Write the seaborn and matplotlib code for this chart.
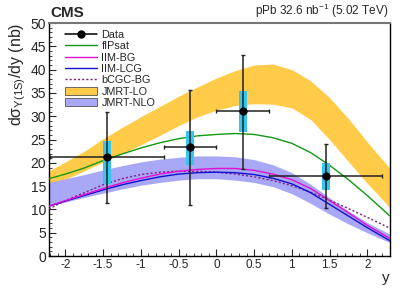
import numpy as np
import pandas as pd
import matplotlib
matplotlib.use("Agg")
import matplotlib.pyplot as plt
import seaborn as sns
from matplotlib.patches import Patch
from matplotlib.lines import Line2D
from matplotlib.ticker import MultipleLocator

sns.set_style("ticks")
plt.rcParams['font.family'] = ['Liberation Sans', 'DejaVu Sans']
plt.rcParams['mathtext.default'] = 'regular'

# data points
y_data = [-1.45, -0.35, 0.35, 1.45]
xs_data = [21.2, 23.3, 31.2, 17.1]
x_lo = [-2.2, -0.7, 0.0, 0.7]
x_hi = [-0.7, 0.0, 0.7, 2.2]
stat_hi = [31.0, 35.6, 43.2, 24.0]
stat_lo = [11.3, 11.0, 18.6, 10.3]
syst_hi = [24.8, 26.8, 35.5, 20.0]
syst_lo = [15.4, 19.6, 26.6, 14.2]

# rapidity grid for the model curves
y_grid = [-2.22, -2.0, -1.75, -1.5, -1.25, -1.0, -0.75, -0.5, -0.25, 0.0,
          0.25, 0.5, 0.75, 1.0, 1.25, 1.5, 1.75, 2.0, 2.3]

# JMRT-LO band
lo_up = [18.3, 20.2, 22.5, 25.2, 27.6, 29.9, 32.1, 34.3, 36.3, 38.2,
         39.8, 41.0, 41.2, 40.0, 37.6, 34.0, 29.5, 24.5, 18.8]
lo_dn = [15.2, 16.5, 18.3, 20.2, 22.0, 23.9, 25.9, 28.0, 29.9, 31.3,
         32.3, 32.7, 32.6, 31.8, 29.3, 25.0, 20.3, 15.6, 10.4]

# JMRT-NLO band
nlo_up = [15.8, 16.6, 17.5, 18.5, 19.4, 20.2, 20.8, 21.2, 21.5, 21.5,
          21.3, 20.7, 19.6, 17.9, 15.4, 12.5, 9.7, 7.2, 4.7]
nlo_dn = [10.8, 11.6, 12.6, 13.5, 14.4, 15.2, 15.8, 16.3, 16.6, 16.6,
          16.3, 15.8, 14.9, 13.4, 11.3, 9.0, 6.9, 5.0, 2.9]

# model curves
fipsat = [16.6, 17.6, 18.9, 20.5, 21.9, 23.2, 24.3, 25.2, 25.8, 26.1,
          26.3, 26.1, 25.4, 24.2, 22.2, 19.5, 16.4, 13.0, 8.6]
iim_bg = [10.7, 11.9, 13.2, 14.5, 15.7, 16.7, 17.6, 18.2, 18.6, 18.8,
          18.8, 18.4, 17.6, 16.4, 14.5, 11.9, 9.3, 6.6, 3.8]
iim_lcg = [10.7, 11.8, 13.0, 14.2, 15.3, 16.2, 17.0, 17.6, 17.9, 18.0,
           17.9, 17.5, 16.7, 15.5, 13.6, 11.1, 8.6, 6.1, 3.3]
bcgc_bg = [10.1, 11.9, 13.6, 15.3, 16.6, 17.5, 18.0, 18.2, 18.2, 18.0,
           17.6, 17.0, 16.2, 15.1, 13.7, 12.0, 10.2, 8.3, 6.0]

c_lo = '#FFCB48'
c_nlo = '#A8A8F7'
c_syst = '#35C6F0'
c_green = '#119911'
c_mag = '#E010D0'
c_blue = '#1010D0'
c_purple = '#802080'
dots = (0, (1.5, 1.5))

fig = plt.figure(figsize=(4.07, 2.92), dpi=100)
ax = fig.add_axes([0.120, 0.123, 0.838, 0.798])

ax.fill_between(y_grid, lo_up, lo_dn, color=c_lo, lw=0, zorder=1)
ax.fill_between(y_grid, nlo_up, nlo_dn, color=c_nlo, lw=0, zorder=1)

curves = pd.DataFrame({'y': y_grid, 'fIPsat': fipsat, 'IIM-BG': iim_bg,
                       'IIM-LCG': iim_lcg, 'bCGC-BG': bcgc_bg})
sns.lineplot(data=curves, x='y', y='fIPsat', color=c_green, lw=1.0, ax=ax, zorder=3)
sns.lineplot(data=curves, x='y', y='bCGC-BG', color=c_purple, lw=1.0, ls=dots, ax=ax, zorder=3)
sns.lineplot(data=curves, x='y', y='IIM-LCG', color=c_blue, lw=1.0, ax=ax, zorder=3)
sns.lineplot(data=curves, x='y', y='IIM-BG', color=c_mag, lw=1.0, ax=ax, zorder=3)

# systematic boxes
for yc, sh, sl in zip(y_data, syst_hi, syst_lo):
    ax.fill_between([yc - 0.05, yc + 0.05], [sl, sl], [sh, sh], color=c_syst, lw=0, zorder=4)

pts = pd.DataFrame({'y': y_data, 'xs': xs_data})
xerr = [np.subtract(y_data, x_lo), np.subtract(x_hi, y_data)]
yerr = [np.subtract(xs_data, stat_lo), np.subtract(stat_hi, xs_data)]
ax.errorbar(y_data, xs_data, xerr=xerr, yerr=yerr, fmt='none', ecolor='#222222',
            elinewidth=1.1, capsize=1.5, capthick=1.0, zorder=5)
sns.scatterplot(data=pts, x='y', y='xs', color='black', s=30, edgecolor='black', ax=ax, zorder=6)

ax.set_xlim(-2.22, 2.3)
ax.set_ylim(0, 50)
ax.xaxis.set_major_locator(MultipleLocator(0.5))
ax.xaxis.set_minor_locator(MultipleLocator(0.1))
ax.yaxis.set_major_locator(MultipleLocator(5))
ax.yaxis.set_minor_locator(MultipleLocator(1))
ax.set_xticks([-2, -1.5, -1, -0.5, 0, 0.5, 1, 1.5, 2])
ax.set_xticklabels(['-2', '-1.5', '-1', '-0.5', '0', '0.5', '1', '1.5', '2'])
ax.tick_params(axis='both', which='major', direction='in', length=5, width=0.8, labelsize=8.5, pad=2)
ax.tick_params(axis='both', which='minor', direction='in', length=2.5, width=0.6)
ax.tick_params(axis='y', labelsize=10)
for s in ['left', 'bottom', 'right']:
    ax.spines[s].set_linewidth(1.0)
    ax.spines[s].set_color('black')
ax.spines['top'].set_color('#777777')
ax.spines['top'].set_linewidth(1.5)

ax.set_xlabel('y', fontsize=11, loc='right', labelpad=0)
ax.set_ylabel('dσ$_{Υ(1S)}$/dy (nb)', fontsize=11.5, loc='top', labelpad=2)

fig.text(0.123, 0.93, 'CMS', fontsize=11, fontweight='bold', ha='left', va='bottom')
fig.text(0.955, 0.93, 'pPb 32.6 nb$^{-1}$ (5.02 TeV)', fontsize=8.5, ha='right', va='bottom')

handles = [
    Line2D([], [], color='black', lw=1.1, marker='o', ms=5),
    Line2D([], [], color=c_green, lw=1.0),
    Line2D([], [], color=c_mag, lw=1.0),
    Line2D([], [], color=c_blue, lw=1.0),
    Line2D([], [], color=c_purple, lw=1.0, ls=dots),
    Patch(facecolor=c_lo, edgecolor='#555555', lw=0.6),
    Patch(facecolor=c_nlo, edgecolor='#555555', lw=0.6),
]
labels = ['Data', 'fIPsat', 'IIM-BG', 'IIM-LCG', 'bCGC-BG', 'JMRT-LO', 'JMRT-NLO']
ax.legend(handles, labels, loc='upper left', bbox_to_anchor=(0.035, 0.99), frameon=False,
          fontsize=7.8, handlelength=2.9, handleheight=0.75, handletextpad=0.45,
          labelspacing=0.13, borderaxespad=0)

fig.savefig('out.png', dpi=100)
